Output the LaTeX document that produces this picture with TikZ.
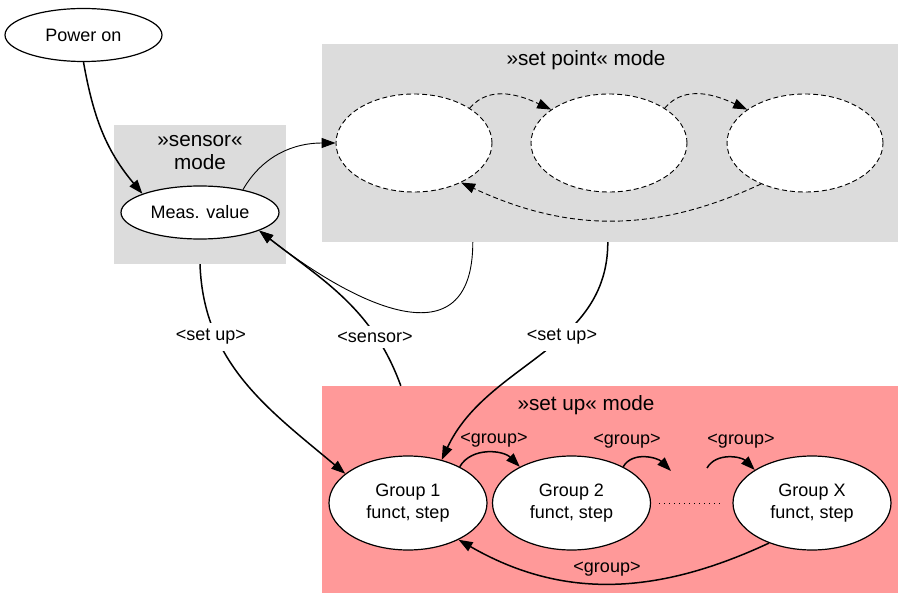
\documentclass[tikz,border=0pt]{standalone}
\usepackage{fontspec}
\setmainfont{Liberation Sans}
\usetikzlibrary{arrows.meta, shapes.geometric}
\definecolor{modegray}{HTML}{DCDCDC}
\definecolor{setuppink}{HTML}{FF9999}

\begin{document}
\begin{tikzpicture}[x=1pt, y=-1pt, >={Triangle[length=14pt,width=10pt]},
    oval/.style={ellipse, draw, fill=white, line width=1.2pt, inner sep=0pt,
        minimum width=157pt, minimum height=53pt, align=center,
        font=\fontsize{18}{21.5}\selectfont},
    spoval/.style={ellipse, draw, fill=white, line width=0.9pt,
        dash pattern=on 5pt off 3pt, minimum width=156pt, minimum height=98pt},
    grpoval/.style={oval, minimum width=158pt, minimum height=94pt},
    modebox/.style={rectangle, draw=none, inner sep=0pt},
    modetitle/.style={font=\fontsize{20.7}{23}\selectfont, align=center},
    elbl/.style={font=\fontsize{18}{20}\selectfont, fill=white, inner xsep=2pt, inner ysep=6pt},
    glbl/.style={font=\fontsize{18}{20}\selectfont},
    edge/.style={->, line width=1.5pt},
    thinedge/.style={->, line width=0.9pt},
    spedge/.style={->, line width=0.9pt, dash pattern=on 5pt off 3pt}]
    \useasboundingbox (0,0) rectangle (899,593);

    % Mode boxes
    \node[modebox, fill=modegray, minimum width=172pt, minimum height=139pt] (sensorbox) at (200,194.5) {};
    \node[modebox, fill=modegray, minimum width=576pt, minimum height=198pt] (setpointbox) at (610,143) {};
    \node[modebox, fill=setuppink, minimum width=576pt, minimum height=207pt] (setupbox) at (610,489.5) {};
    \node[modetitle] (sensortitle) at (200,152.5) {»sensor«\\mode};
    \node[modetitle] (setpointtitle) at (586,60) {»set point« mode};
    \node[modetitle] (setuptitle) at (586,405) {»set up« mode};

    % States
    \node[oval] (poweron) at (83.5,35) {Power on};
    \node[oval, minimum width=158pt] (meas) at (200,212.5) {Meas. value};
    \node[spoval] (sp1) at (414,143) {};
    \node[spoval] (sp2) at (609,143) {};
    \node[spoval] (sp3) at (805,143) {};
    \node[grpoval] (grp1) at (408,503) {Group 1\\funct, step};
    \node[grpoval] (grp2) at (571.5,503) {Group 2\\funct, step};
    \node[grpoval] (grpx) at (812,503) {Group X\\funct, step};
    \coordinate (gapin) at (671,471);
    \coordinate (gapout) at (707,468);

    % Power on and sensor mode
    \draw[edge] (poweron.south) to[out=-80, in=130] (meas.162);
    \draw[thinedge] (meas.28) to[out=60, in=180] (sp1.west);

    % Set point mode
    \draw[spedge] (sp1.32) to[out=50, in=155] (sp2.150);
    \draw[spedge] (sp2.32) to[out=50, in=155] (sp3.150);
    \draw[spedge] (sp3.-137) to[out=-155, in=-25] (sp1.-40);

    % Mode changes
    \draw[edge] (sensorbox.south) to[out=-88, in=140] (grp1.155);
    \draw[edge] ([xshift=79pt]setupbox.north west) to[out=110, in=-38] (meas.-17);
    \draw[thinedge] ([xshift=151pt]setpointbox.south west) to[out=-90, in=-38, looseness=1.45] (meas.-17);
    \draw[edge] ([xshift=286pt]setpointbox.south west) to[out=-90, in=65] (grp1.52);
    \node[elbl] (lsetupl) at (211,337) {<set up>};
    \node[elbl] (lsensor) at (375,337) {<sensor>};
    \node[elbl] (lsetupr) at (562,337) {<set up>};

    % Set up mode
    \draw[edge] (grp1.35) to[out=60, in=135] (grp2.145);
    \draw[edge] (grp2.35) to[out=60, in=135] (gapin);
    \draw[edge] (gapout) to[out=60, in=135] (grpx.150);
    \draw[line width=1pt, dash pattern=on 1pt off 4pt] ([xshift=8pt]grp2.east) -- ([xshift=-11pt]grpx.west);
    \draw[edge] (grpx.-137) to[out=-155, in=-30] (grp1.-36);
    \node[glbl] (lgrp12) at (494,440) {<group>};
    \node[glbl] (lgrp2) at (627,441) {<group>};
    \node[glbl] (lgrpx) at (741,441) {<group>};
    \node[glbl] (lgrpback) at (607,569) {<group>};
\end{tikzpicture}
\end{document}
